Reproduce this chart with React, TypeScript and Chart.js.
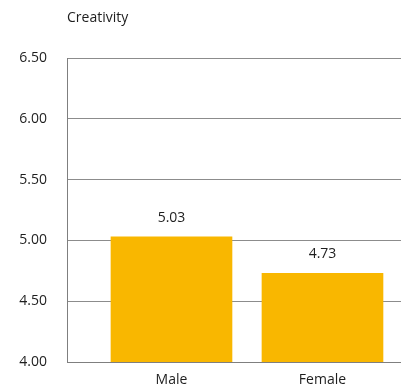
import React, { useEffect, useRef } from "react";
import { Chart, registerables } from "chart.js";

Chart.register(...registerables);

const chartTitle = "Creativity";
const categories = ["Male", "Female"];
const values = [5.03, 4.73];
const yTicks = [4.0, 4.5, 5.0, 5.5, 6.0, 6.5];

const FONT = "'Open Sans', 'Noto Sans', sans-serif";
const TEXT = "#1e1e1e";
const BAR = "#F9B700";

export default function App() {
  const ref = useRef<HTMLCanvasElement | null>(null);

  useEffect(() => {
    if (!ref.current) return;
    const titlePlugin = {
      id: "titleAndLabels",
      afterDatasetsDraw(chart: any) {
        const ctx = chart.ctx;
        ctx.save();
        ctx.fillStyle = TEXT;
        ctx.font = `14px ${FONT}`;
        ctx.textAlign = "left";
        ctx.textBaseline = "middle";
        ctx.fillText(chartTitle, chart.chartArea.left, 18);
        const meta = chart.getDatasetMeta(0);
        ctx.font = `14px ${FONT}`;
        ctx.textAlign = "center";
        meta.data.forEach((el: any, i: number) => {
          ctx.fillText(values[i].toFixed(2), el.x, el.y - 19);
        });
        ctx.restore();
      },
    };
    const chart = new Chart(ref.current, {
      type: "bar",
      data: {
        datasets: [
          {
            data: values.map((v, i) => ({ x: i, y: v })),
            backgroundColor: BAR,
            borderWidth: 0,
            barThickness: 121,
          },
        ],
      },
      options: {
        animation: false,
        responsive: false,
        maintainAspectRatio: false,
        layout: { padding: { top: 58, right: 0, bottom: 0, left: 0 } },
        plugins: {
          legend: { display: false },
          tooltip: { enabled: false },
          title: { display: false },
        },
        scales: {
          x: {
            type: "linear",
            offset: false,
            min: -0.692,
            max: 1.52,
            afterBuildTicks: (scale: any) => {
              scale.ticks = categories.map((_, i) => ({ value: i }));
            },
            afterFit: (scale: any) => {
              scale.height = 30;
              scale.paddingLeft = 0;
              scale.paddingRight = 0;
            },
            grid: { display: false, drawTicks: false, offset: false },
            border: { display: true, color: "#7f7f7f", width: 1 },
            ticks: {
              padding: 10,
              color: TEXT,
              font: { family: FONT, size: 14 },
              maxRotation: 0,
              autoSkip: false,
              callback: (v: any) => categories[v as number] ?? "",
            },
          },
          y: {
            min: yTicks[0],
            max: yTicks[yTicks.length - 1],
            afterBuildTicks: (scale: any) => {
              scale.ticks = yTicks.map((v) => ({ value: v }));
            },
            afterFit: (scale: any) => {
              scale.width = 67;
            },
            grid: { color: "#8c8c8c", lineWidth: 1, drawTicks: false },
            border: { display: true, color: "#7f7f7f", width: 1 },
            ticks: {
              padding: 20,
              color: TEXT,
              font: { family: FONT, size: 14 },
              callback: (v: any) => Number(v).toFixed(2),
            },
          },
        },
      },
      plugins: [titlePlugin],
    } as any);
    return () => chart.destroy();
  }, []);

  return (
    <div style={{ position: "absolute", left: 0, top: 0, width: 401, height: 392, background: "#fff" }}>
      <canvas ref={ref} width={401} height={392} style={{ width: 401, height: 392 }} />
    </div>
  );
}
